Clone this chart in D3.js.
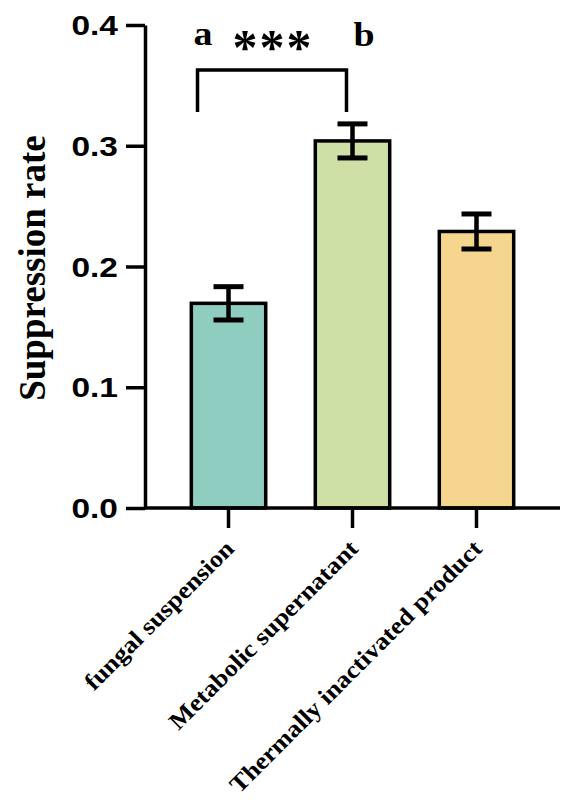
<!DOCTYPE html>
<html>
<head>
<meta charset="utf-8">
<script src="https://cdn.jsdelivr.net/npm/d3@7"></script>
<style>
  body { margin: 0; background: #fff; }
  svg { display: block; }
</style>
</head>
<body>
<div id="chart"></div>
<script>
// bar chart data
const categories = ["fungal suspension", "Metabolic supernatant", "Thermally inactivated product"];
const means = [0.1695, 0.304, 0.229];
const errors = [0.0138, 0.0141, 0.0145];
const colors = ["#8ecdc0", "#cfe0a7", "#f6d68f"];
const yTicks = [0.0, 0.1, 0.2, 0.3, 0.4];

const W = 570, H = 804;
const serif = "'Liberation Serif', 'Times New Roman', serif";

const svg = d3.select("#chart")
  .append("svg")
    .attr("width", W)
    .attr("height", H);

// scales
const x = d3.scaleBand()
  .domain(categories)
  .range([145, 560])
  .paddingInner(0.4)
  .paddingOuter(0.3735);

const y = d3.scaleLinear()
  .domain([0, 0.4])
  .range([508, 25]);

const data = categories.map((c, i) => ({cat: c, mean: means[i], err: errors[i], color: colors[i]}));

// bars
svg.selectAll("rect.bar")
  .data(data)
  .join("rect")
    .attr("class", "bar")
    .attr("x", d => x(d.cat))
    .attr("y", d => y(d.mean))
    .attr("width", x.bandwidth())
    .attr("height", d => y(0) - y(d.mean))
    .attr("fill", d => d.color)
    .attr("stroke", "#000")
    .attr("stroke-width", 3.5);

// error bars
const eb = svg.selectAll("g.err")
  .data(data)
  .join("g")
    .attr("class", "err")
    .attr("transform", d => `translate(${x(d.cat) + x.bandwidth() / 2},0)`);
eb.append("line")
    .attr("y1", d => y(d.mean + d.err))
    .attr("y2", d => y(d.mean - d.err))
    .attr("stroke", "#000")
    .attr("stroke-width", 4.5);
eb.selectAll("line.cap")
  .data(d => [d.mean + d.err, d.mean - d.err])
  .join("line")
    .attr("class", "cap")
    .attr("x1", -15)
    .attr("x2", 15)
    .attr("y1", v => y(v))
    .attr("y2", v => y(v))
    .attr("stroke", "#000")
    .attr("stroke-width", 5);

// y axis
const yAxis = svg.append("g")
  .attr("transform", "translate(145,0)")
  .call(d3.axisLeft(y).tickValues(yTicks).tickFormat(d3.format(".1f")).tickSize(19).tickSizeOuter(0).tickPadding(0));
yAxis.selectAll("path, line").attr("stroke", "#000").attr("stroke-width", 3.5);
yAxis.selectAll("text")
  .attr("x", 0)
  .attr("dy", "0.36em")
  .attr("transform", "translate(-27,0) scale(1.24,1)")
  .attr("fill", "#000")
  .style("font-family", "'Liberation Sans', Arial, sans-serif")
  .style("font-weight", "bold")
  .style("font-size", "27px");

// x axis
const xAxis = svg.append("g")
  .attr("transform", "translate(0,508)")
  .call(d3.axisBottom(x).tickSize(20).tickSizeOuter(0));
xAxis.selectAll("path, line").attr("stroke", "#000").attr("stroke-width", 3.5);
xAxis.select("path.domain").attr("d", "M145,0H560");
xAxis.selectAll("text")
  .attr("x", 0)
  .attr("y", 0)
  .attr("dy", 0)
  .attr("transform", "translate(7,42) rotate(-45) scale(1.1,1)")
  .style("text-anchor", "end")
  .attr("fill", "#000")
  .style("font-family", serif)
  .style("font-weight", "bold")
  .style("font-size", "24px");

// y axis title
svg.append("text")
  .attr("transform", "translate(45,268) rotate(-90)")
  .attr("text-anchor", "middle")
  .style("font-family", serif)
  .style("font-weight", "bold")
  .style("font-size", "37px")
  .text("Suppression rate");

// significance bracket between first two groups
const c0 = x(categories[0]) + x.bandwidth() / 2;
const c1 = x(categories[1]) + x.bandwidth() / 2;
const bx0 = c0 - 31, bx1 = c1 - 6;
svg.append("path")
  .attr("d", `M${bx0},112V70H${bx1}V112`)
  .attr("fill", "none")
  .attr("stroke", "#000")
  .attr("stroke-width", 3.5);

svg.append("text")
  .attr("transform", `translate(${bx0 - 4},45) scale(1.15,1)`)
  .style("font-family", serif).style("font-weight", "bold").style("font-size", "33px")
  .text("a");
svg.append("text")
  .attr("transform", `translate(${bx1 + 7},46) scale(1.15,1)`)
  .style("font-family", serif).style("font-weight", "bold").style("font-size", "33px")
  .text("b");
svg.append("text")
  .attr("x", (bx0 + bx1) / 2 + 1)
  .attr("y", 64)
  .attr("text-anchor", "middle")
  .style("font-family", serif).style("font-weight", "bold").style("font-size", "50px")
  .style("letter-spacing", "2px")
  .text("***");
</script>
</body>
</html>
